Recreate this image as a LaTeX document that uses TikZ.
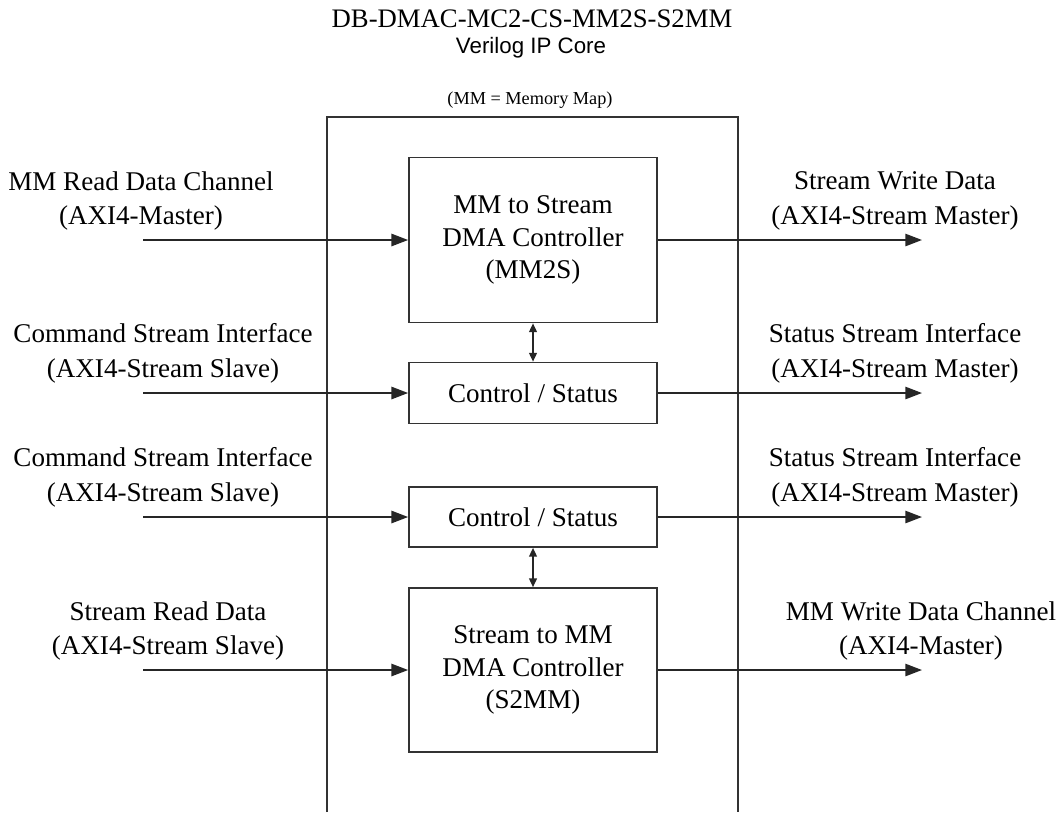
\documentclass[tikz,border=0pt]{standalone}
\usepackage{fontspec}
\setmainfont{Liberation Serif}
\newfontfamily\arialfont{Liberation Sans}
\usepackage{tikz}
\usetikzlibrary{arrows.meta,positioning}

\begin{document}
\begin{tikzpicture}[x=0.02cm, y=-0.02cm,
		font=\fontsize{15.4}{18.5}\selectfont,
		blk/.style={draw=black!80, line width=1pt, minimum width=4.96cm, align=center, inner sep=0pt},
		lbl/.style={align=center, font=\fontsize{15.4}{19.8}\selectfont},
		sig/.style={draw=black!85, line width=1pt, -{Triangle[length=9.5pt,width=7pt]}},
		bidir/.style={draw=black!85, line width=0.8pt, {Triangle[length=5pt,width=4.5pt]}-{Triangle[length=5pt,width=4.5pt]}}]
	\useasboundingbox (0,0) rectangle (1060,812);
	% heading
	\node (title) at (532,19) {\fontsize{15.2}{18}\selectfont DB-DMAC-MC2-CS-MM2S-S2MM};
	\node (sub) at (531,48) {\arialfont\fontsize{12.7}{15}\selectfont Verilog IP Core};
	\node (mmnote) at (530,100) {\fontsize{10.4}{12}\selectfont (MM = Memory Map)};
	% core outline, open at the bottom
	\draw[black!80, line width=1pt] (327,812) -- (327,117) -- (738,117) -- (738,812);
	% blocks
	\node[blk, minimum height=3.3cm] (mm2s) at (533,240) {MM to Stream\\DMA Controller\\(MM2S)};
	\node[blk, minimum height=1.22cm] (cs1) at (533,393) {Control / Status};
	\node[blk, minimum height=1.2cm] (cs2) at (533,517) {Control / Status};
	\node[blk, minimum height=3.28cm] (s2mm) at (533,670) {Stream to MM\\DMA Controller\\(S2MM)};
	\draw[bidir] (mm2s) -- (cs1);
	\draw[bidir] (cs2) -- (s2mm);
	% ports
	\foreach \blk/\y/\i in {mm2s/240/1, cs1/393/2, cs2/517/3, s2mm/670/4} {
		\coordinate (in\i) at (143,\y);
		\coordinate (out\i) at (922,\y);
		\draw[sig] (in\i) -- (\blk);
		\draw[sig] (\blk) -- (out\i);
	}
	\node[lbl] (lin1) at (141,201) {MM Read Data Channel\\(AXI4-Master)};
	\node[lbl] (lin2) at (163,353) {Command Stream Interface\\(AXI4-Stream Slave)};
	\node[lbl] (lin3) at (163,477) {Command Stream Interface\\(AXI4-Stream Slave)};
	\node[lbl] (lin4) at (168,631) {Stream Read Data\\(AXI4-Stream Slave)};
	\node[lbl] (lout1) at (895,201) {Stream Write Data\\(AXI4-Stream Master)};
	\node[lbl] (lout2) at (895,353) {Status Stream Interface\\(AXI4-Stream Master)};
	\node[lbl] (lout3) at (895,477) {Status Stream Interface\\(AXI4-Stream Master)};
	\node[lbl] (lout4) at (921,631) {MM Write Data Channel\\(AXI4-Master)};
\end{tikzpicture}
\end{document}
